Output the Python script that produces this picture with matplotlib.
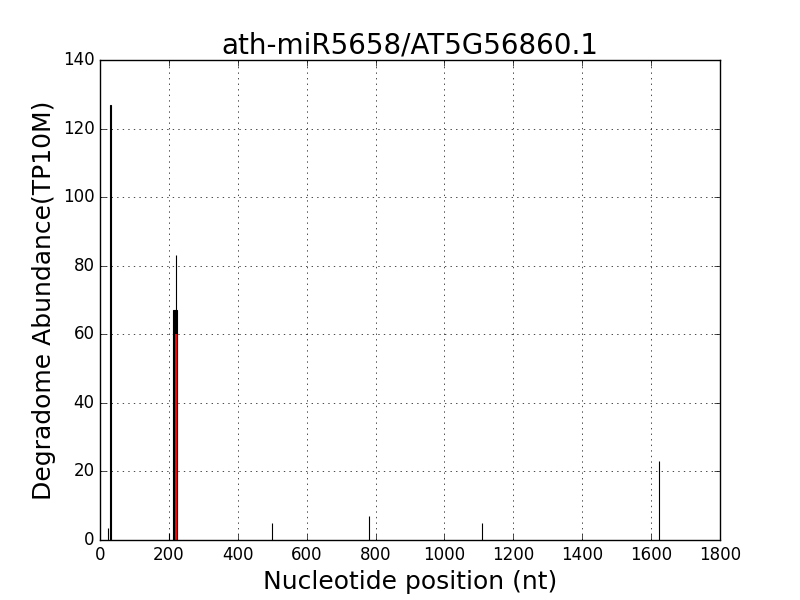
import matplotlib
matplotlib.use("Agg")
from matplotlib import pyplot as plt

plt.style.use("classic")

# degradome reads (position in nt, abundance TP10M)
positions = [24, 30, 201, 217, 221.5, 500, 781, 1109, 1622]
abundances = [3.5, 127, 2, 67, 83, 5, 7, 5, 23]
widths = [1, 1, 1, 12, 1, 1, 1, 1, 1]

# cleavage site
cleave_pos = [221]
cleave_abund = [60]

fig = plt.figure(figsize=(8, 6), dpi=100)
plt.bar(positions, abundances, width=widths, color="black", edgecolor="black",
        linewidth=0.8, align="center")
plt.bar(cleave_pos, cleave_abund, width=7, color="red", edgecolor="red", linewidth=0, align="center")
plt.xlim(0, 1800)
plt.ylim(0, 140)
plt.grid(True)
plt.title("ath-miR5658/AT5G56860.1", fontsize=20)
plt.xlabel("Nucleotide position (nt)", fontsize=18)
plt.ylabel("Degradome Abundance(TP10M)", fontsize=18)
plt.savefig("out.png", dpi=100)
